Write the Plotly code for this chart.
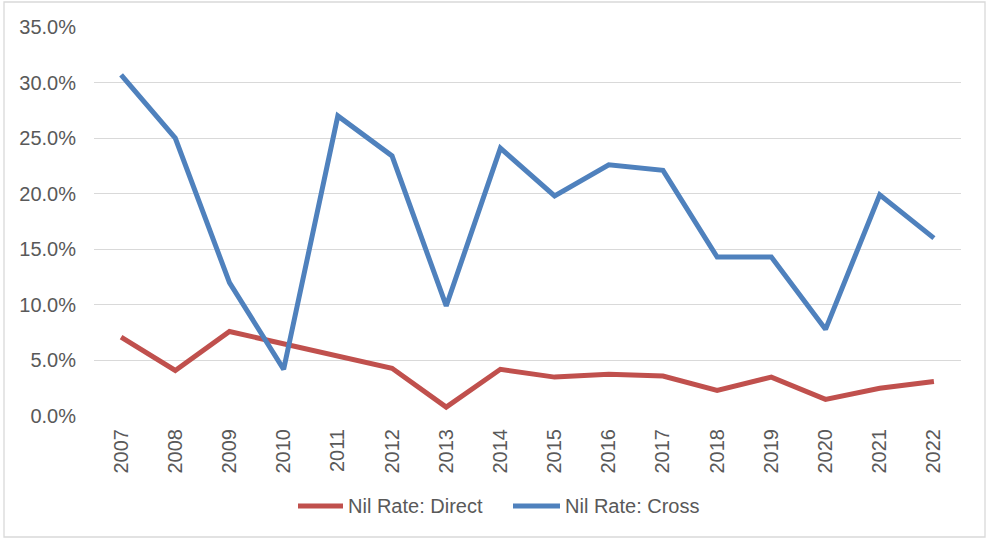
import plotly.graph_objects as go

years = [str(y) for y in range(2007, 2023)]
nil_rate_direct = [0.071, 0.041, 0.076, 0.065, 0.055, 0.043, 0.008, 0.042,
                   0.035, 0.0375, 0.036, 0.023, 0.035, 0.015, 0.025, 0.031]
nil_rate_cross = [0.307, 0.250, 0.120, 0.042, 0.270, 0.234, 0.099, 0.241,
                  0.198, 0.226, 0.221, 0.143, 0.143, 0.078, 0.199, 0.160]
y_ticks = [0.0, 0.05, 0.10, 0.15, 0.20, 0.25, 0.30, 0.35]
series_names = ["Nil Rate: Direct", "Nil Rate: Cross"]
series_colors = ["#C0504D", "#4F81BD"]

W, H = 986, 540
L, R, T, B = 94, 25, 27, 124
pw, ph = W - L - R, H - T - B

def px_x(x):
    return (x - L) / pw

def px_y(y):
    return (H - B - y) / ph

text_color = "#595959"
font = "Liberation Sans, Arial, sans-serif"
fsize = 20

fig = go.Figure()
for name, vals, col in zip(series_names, [nil_rate_direct, nil_rate_cross], series_colors):
    fig.add_trace(go.Scatter(x=years, y=vals, mode="lines", name=name,
                             showlegend=False,
                             line=dict(color=col, width=5)))

# legend drawn as line swatches plus labels below the plot
legend_y = 506
swatches = [(298, 343), (513, 560)]
shapes = [dict(type="rect", xref="paper", yref="paper",
               x0=px_x(4), x1=px_x(985), y0=px_y(537), y1=px_y(2),
               line=dict(color="#D9D9D9", width=1.3),
               fillcolor="rgba(0,0,0,0)", layer="below")]
annotations = []
for (x0, x1), name, col in zip(swatches, series_names, series_colors):
    shapes.append(dict(type="line", xref="paper", yref="paper",
                       x0=px_x(x0), x1=px_x(x1),
                       y0=px_y(legend_y), y1=px_y(legend_y),
                       line=dict(color=col, width=5)))
    annotations.append(dict(xref="paper", yref="paper",
                            x=px_x(x1 + 3), y=px_y(legend_y),
                            xanchor="left", yanchor="middle",
                            text=name, showarrow=False,
                            font=dict(family=font, size=fsize, color=text_color)))

fig.update_layout(
    width=W, height=H,
    margin=dict(l=L, r=R, t=T, b=B, pad=0),
    paper_bgcolor="white", plot_bgcolor="white",
    font=dict(family=font, size=fsize, color=text_color),
    showlegend=False,
    xaxis=dict(type="category", range=[-0.5, len(years) - 0.5],
               tickangle=-90, showgrid=False, zeroline=False,
               showline=False, ticks="", ticklabelstandoff=8,
               tickfont=dict(size=fsize, color=text_color)),
    yaxis=dict(range=[0, 0.35], tickvals=y_ticks, tickformat=".1%",
               showgrid=True, gridcolor="#D9D9D9", gridwidth=1.3,
               zeroline=False, showline=False, ticks="",
               ticklabelstandoff=17,
               tickfont=dict(size=fsize, color=text_color)),
    shapes=shapes,
    annotations=annotations,
)

fig.write_html("out.html")
